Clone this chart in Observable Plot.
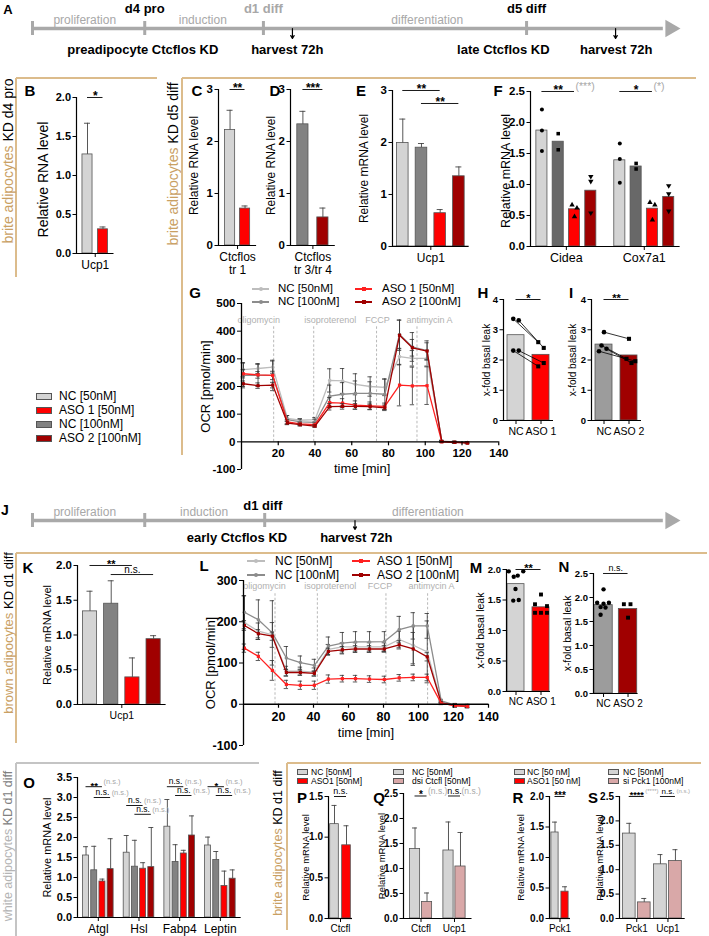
<!DOCTYPE html>
<html>
<head>
<meta charset="utf-8">
<script src="https://cdn.jsdelivr.net/npm/d3@7"></script>
<script src="https://cdn.jsdelivr.net/npm/@observablehq/plot@0.6"></script>
<style>
html, body { margin: 0; padding: 0; background: #fff; }
#root { position: relative; width: 709px; height: 936px; overflow: hidden; background: #fff;
  font-family: "Liberation Sans", Arial, Helvetica, sans-serif; color: #000; }
.abs { position: absolute; white-space: nowrap; line-height: 1; }
#root svg g[aria-label="y-axis tick label"] text { font-weight: bold; }
</style>
</head>
<body>
<div id="root"></div>
<script>
// ================= DATA =================
// Panel A timeline (schematic position 0-100 along the arrow)
const tlA_ticks = [0, 17.4, 35.8, 76.6];
const tlA_milestones = ["d4 pro", "d1 diff", "d5 diff"];
const tlA_milestonePos = [17.4, 35.8, 76.6];
const tlA_stages = ["proliferation", "induction", "differentiation"];
const tlA_stagePos = [8.1, 26.4, 61.2];
const tlA_events = ["preadipocyte Ctcflos KD", "harvest 72h", "late Ctcflos KD", "harvest 72h"];
const tlA_eventPos = [17.1, 39.5, 73.0, 90.5];
const tlA_harvestPos = [40.3, 90.4];
// Panel J timeline
const tlJ_ticks = [0, 17.4, 36.0];
const tlJ_milestones = ["d1 diff"];
const tlJ_milestonePos = [35.7];
const tlJ_stages = ["proliferation", "induction", "differentiation"];
const tlJ_stagePos = [8.1, 26.6, 61.3];
const tlJ_events = ["early Ctcflos KD", "harvest 72h"];
const tlJ_eventPos = [31.7, 50.2];
const tlJ_harvestPos = [50.0];

const legendNames = ["NC [50nM]", "ASO 1 [50nM]", "NC [100nM]", "ASO 2 [100nM]"];

// B
const B_genes = ["Ucp1"];
const B_NC50 = [1.27], B_NC50_sem = [0.40];
const B_ASO1 = [0.31], B_ASO1_sem = [0.03];
// C
const C_genes = ["Ctcflos\ntr 1"];
const C_NC50 = [2.22], C_NC50_sem = [0.38];
const C_ASO1 = [0.71], C_ASO1_sem = [0.05];
// D
const D_genes = ["Ctcflos\ntr 3/tr 4"];
const D_NC100 = [2.33], D_NC100_sem = [0.25];
const D_ASO2 = [0.54], D_ASO2_sem = [0.18];
// E
const E_genes = ["Ucp1"];
const E_NC50 = [1.99], E_NC50_sem = [0.46];
const E_NC100 = [1.90], E_NC100_sem = [0.08];
const E_ASO1 = [0.64], E_ASO1_sem = [0.07];
const E_ASO2 = [1.35], E_ASO2_sem = [0.18];
// F
const F_genes = ["Cidea", "Cox7a1"];
const F_NC50 = [1.87, 1.39];
const F_NC100 = [1.69, 1.29];
const F_ASO1 = [0.60, 0.61];
const F_ASO2 = [0.90, 0.80];
const F_NC50_pts = [[2.21, 1.87, 1.54], [1.66, 1.41, 1.03]];
const F_NC100_pts = [[1.82, 1.56], [1.34, 1.25]];
const F_ASO1_pts = [[0.67, 0.62, 0.48], [0.71, 0.67, 0.43]];
const F_ASO2_pts = [[1.13, 1.05, 0.54], [0.98, 0.85, 0.57]];
// G (OCR, brite d5)
const G_time = [1, 9, 17, 25, 32, 40, 48, 55, 62, 70, 78, 86, 93, 101, 109, 116, 123];
const G_NC50 = [261, 265, 270, 85, 78, 80, 222, 220, 208, 200, 197, 308, 302, 302, 3, 0, -3];
const G_NC50_sem = [25, 18, 22, 10, 6, 8, 42, 45, 38, 35, 30, 30, 28, 28, 3, 3, 3];
const G_NC100 = [240, 240, 240, 80, 72, 70, 165, 172, 175, 175, 172, 388, 343, 330, 2, -1, -3];
const G_NC100_sem = [45, 40, 55, 15, 10, 12, 40, 42, 45, 42, 55, 52, 52, 35, 3, 3, 3];
const G_ASO1 = [246, 242, 240, 72, 65, 62, 142, 140, 133, 130, 128, 205, 202, 203, 0, -2, -4];
const G_ASO1_sem = [15, 12, 15, 8, 6, 6, 18, 16, 15, 14, 12, 75, 68, 68, 3, 3, 3];
const G_ASO2 = [210, 203, 205, 68, 62, 57, 127, 128, 128, 127, 123, 385, 340, 328, 1, -2, -4];
const G_ASO2_sem = [10, 10, 10, 6, 5, 5, 12, 10, 10, 10, 10, 55, 30, 30, 3, 3, 3];
const G_injNames = ["oligomycin", "isoproterenol", "FCCP", "antimycin A"];
const G_injTime = [17.5, 39.3, 73.5, 95.5];
// H, I
const H_labels = ["NC", "ASO 1"];
const H_means = [2.82, 2.17];
const H_NC_pts = [3.36, 3.31, 2.31, 2.31];
const H_ASO1_pts = [2.59, 2.40, 1.79, 1.90];
const I_labels = ["NC", "ASO 2"];
const I_means = [2.51, 2.15];
const I_NC_pts = [2.92, 2.48, 2.37, 2.29];
const I_ASO2_pts = [2.70, 2.04, 1.90, 1.96];
// K
const K_genes = ["Ucp1"];
const K_NC50 = [1.34], K_NC50_sem = [0.29];
const K_NC100 = [1.45], K_NC100_sem = [0.33];
const K_ASO1 = [0.39], K_ASO1_sem = [0.28];
const K_ASO2 = [0.94], K_ASO2_sem = [0.05];
// L (OCR, brown d1)
const L_time = [0.5, 8.5, 16.5, 24.5, 32.5, 40.5, 48.5, 56.5, 64, 72, 80.5, 89, 97, 105, 113, 121, 128];
const L_NC50 = [198, 177, 168, 80, 80, 78, 133, 139, 139, 139, 139, 157, 143, 127, 5, -3, -5];
const L_NC50_sem = [65, 20, 30, 12, 10, 10, 12, 10, 10, 10, 10, 20, 45, 75, 4, 4, 4];
const L_NC100 = [223, 205, 173, 112, 101, 94, 141, 148, 151, 151, 152, 181, 190, 190, 8, -2, -4];
const L_NC100_sem = [40, 48, 78, 28, 16, 15, 22, 26, 25, 25, 24, 32, 32, 30, 4, 4, 4];
const L_ASO1 = [136, 116, 82, 48, 46, 46, 61, 62, 62, 61, 60, 64, 65, 65, 2, -3, -5];
const L_ASO1_sem = [10, 10, 24, 10, 10, 10, 10, 8, 8, 8, 8, 8, 8, 8, 3, 3, 3];
const L_ASO2 = [191, 171, 165, 77, 77, 75, 128, 132, 134, 134, 134, 144, 134, 115, 3, -3, -5];
const L_ASO2_sem = [12, 10, 10, 8, 6, 6, 8, 8, 8, 8, 8, 10, 40, 10, 3, 3, 3];
const L_injNames = ["oligomycin", "isoproterenol", "FCCP", "antimycin A"];
const L_injTime = [18.0, 42.2, 81.4, 105.2];
// M, N
const M_labels = ["NC", "ASO 1"];
const M_means = [1.76, 1.38];
const M_NC_pts = [1.97, 1.88, 1.90, 1.97, 1.68, 1.49, 1.50];
const M_ASO1_pts = [1.59, 1.43, 1.40, 1.29, 1.29, 1.29];
const N_labels = ["NC", "ASO 2"];
const N_means = [1.84, 1.76];
const N_NC_pts = [2.17, 1.89, 1.87, 1.89, 1.80, 1.79, 1.64];
const N_ASO2_pts = [1.86, 1.86, 1.58];
// O (white adipocytes)
const O_genes = ["Atgl", "Hsl", "Fabp4", "Leptin"];
const O_NC50 = [1.55, 1.62, 2.27, 1.80], O_NC50_sem = [0.22, 0.43, 0.68, 0.21];
const O_NC100 = [1.18, 1.27, 1.39, 1.44], O_NC100_sem = [0.60, 0.66, 0.43, 0.21];
const O_ASO1 = [0.90, 1.22, 1.60, 0.79], O_ASO1_sem = [0.06, 0.15, 0.08, 0.37];
const O_ASO2 = [1.21, 1.26, 2.05, 0.97], O_ASO2_sem = [0.76, 0.99, 0.49, 0.22];
// P, Q, R, S
const P_legend = ["NC [50nM]", "ASO1 [50nM]"];
const P_genes = ["Ctcfl"];
const P_NC50 = [1.16], P_NC50_sem = [0.23];
const P_ASO1 = [0.90], P_ASO1_sem = [0.24];
const Q_legend = ["NC [50nM]", "dsi Ctcfl [50nM]"];
const Q_genes = ["Ctcfl", "Ucp1"];
const Q_NC50 = [1.39, 1.36], Q_NC50_sem = [0.42, 0.57];
const Q_dsi = [0.33, 1.04], Q_dsi_sem = [0.18, 0.68];
const R_legend = ["NC [50 nM]", "ASO1 [50 nM]"];
const R_genes = ["Pck1"];
const R_NC50 = [1.41], R_NC50_sem = [0.17];
const R_ASO1 = [0.44], R_ASO1_sem = [0.08];
const S_legend = ["NC [50nM]", "si Pck1 [100nM]"];
const S_genes = ["Pck1", "Ucp1"];
const S_NC50 = [1.74, 1.11], S_NC50_sem = [0.21, 0.20];
const S_si = [0.33, 1.18], S_si_sem = [0.08, 0.23];

// ================= STYLE =================
const FONT = '"Liberation Sans", Arial, Helvetica, sans-serif';
const cNC50 = "#d4d4d4", cASO1 = "#ff0000", cNC100 = "#828282", cASO2 = "#a00000";
const cNCdark = "#686868", cNCmid = "#9c9c9c", cPINK = "#d9a8a8";
const TAN = "#c9a063", TANLINE = "#dcbc8c", GRAYLINE = "#c4c4c4", TLGRAY = "#a9a9a9";
const STYLE = {fontFamily: FONT, background: "transparent", overflow: "visible", color: "#000"};
const root = document.getElementById("root");

function place(svg, left, top) {
  svg.style.position = "absolute";
  svg.style.left = left + "px";
  svg.style.top = top + "px";
  svg.style.maxWidth = "none";
  root.appendChild(svg);
}
function div(css) {
  const e = document.createElement("div");
  e.style.cssText = "position:absolute;" + css;
  root.appendChild(e);
  return e;
}
function txt(s, x, y, css, anchor) {
  const e = document.createElement("div");
  e.className = "abs";
  e.textContent = s;
  const tx = anchor === "start" ? 0 : anchor === "end" ? -100 : -50;
  e.style.cssText = `left:${x}px;top:${y}px;transform:translate(${tx}%,-50%);` + (css || "");
  root.appendChild(e);
  return e;
}
function vlabel(parts, cx, cy, size) {
  const e = document.createElement("div");
  e.className = "abs";
  parts.forEach(([t, col]) => {
    const s = document.createElement("span");
    s.textContent = t; s.style.color = col; e.appendChild(s);
  });
  e.style.cssText = `left:${cx}px;top:${cy}px;font-size:${size}px;transform:translate(-50%,-50%) rotate(-90deg);`;
  root.appendChild(e);
}
function hline(x1, x2, y, col, w) { div(`left:${x1}px;top:${y - w / 2}px;width:${x2 - x1}px;height:${w}px;background:${col};`); }
function vline(x, y1, y2, col, w) { div(`left:${x - w / 2}px;top:${y1}px;width:${w}px;height:${y2 - y1}px;background:${col};`); }

// ================= TIMELINE =================
function timeline(c) {
  const svg = Plot.plot({
    width: 709, height: 60, marginLeft: 32, marginRight: 32, marginTop: 0, marginBottom: 0,
    x: {domain: [0, 100], axis: null}, y: {domain: [-30, 30], axis: null}, color: {type: "identity"},
    style: STYLE,
    marks: [
      Plot.ruleY([0], {x1: () => 0, x2: () => 97.8, stroke: TLGRAY, strokeWidth: 3.5}),
      Plot.dot([98.9], {x: d => d, y: () => 0, symbol: "triangle", r: 6.5, fill: TLGRAY, rotate: 90}),
      Plot.ruleX(c.ticks, {x: d => d, y1: () => -7, y2: () => 7, stroke: TLGRAY, strokeWidth: 3}),
      Plot.text(c.stages, {x: (d, i) => c.stagePos[i], y: () => 0, dy: c.stageDy, text: d => d, fill: "#a8a8a8", fontSize: 12}),
      Plot.text(c.milestones, {x: (d, i) => c.milestonePos[i], y: () => 0, dy: c.msDy, text: d => d, fill: (d, i) => c.msColor[i], fontWeight: "bold", fontSize: 13}),
      Plot.text(c.events, {x: (d, i) => c.eventPos[i], y: () => 0, dy: c.evDy, text: d => d, fontWeight: "bold", fontSize: 13}),
      Plot.arrow(c.harvest, {x1: d => d, x2: d => d, y1: () => 0, y2: () => -c.arrowLen, stroke: "#000", strokeWidth: 1.2, headLength: 5})
    ]
  });
  place(svg, 0, c.lineY - 30);
}

// ================= BAR PANEL =================
function barPanel(c) {
  const nG = c.groups.length, nS = c.series.length;
  const pad = c.pad ?? 0, gap = c.gap ?? 0, bw = c.bw ?? 0.7;
  const D = 2 * pad + nG * nS + (nG - 1) * gap;
  const cx = (g, s) => pad + g * (nS + gap) + s + 0.5;
  const centers = c.groups.map((_, g) => pad + g * (nS + gap) + nS / 2);
  const nameAt = new Map(centers.map((x, i) => [x, c.groups[i]]));
  const [y0, y1] = c.ydom;
  const cap = (c.capPx ?? 3) / c.step;
  const bars = [];
  c.series.forEach((se, s) => se.values.forEach((v, g) => bars.push({
    c: cx(g, s), v, e: se.sem ? se.sem[g] : null,
    fill: Array.isArray(se.color) ? se.color[g] : se.color
  })));
  const M = {l: 70, r: 70, t: 45, b: 45};
  const W = D * c.step, H = c.yBot - c.yTop;
  const marks = [];
  marks.push(Plot.rect(bars, {x1: d => d.c - bw / 2, x2: d => d.c + bw / 2, y1: () => y0, y2: "v", fill: "fill", stroke: c.barStroke || "#555", strokeWidth: 0.8}));
  const eb = bars.filter(d => d.e != null);
  marks.push(Plot.ruleX(eb, {x: "c", y1: "v", y2: d => d.v + d.e, stroke: "#444", strokeWidth: 0.9}));
  marks.push(Plot.ruleY(eb, {y: d => d.v + d.e, x1: d => d.c - cap, x2: d => d.c + cap, stroke: "#444", strokeWidth: 0.9}));
  // points
  const pts = (c.points || []).map(p => p.vals.map((v, i) => ({x: cx(p.g, p.s) + p.jit[i % p.jit.length], y: v})));
  (c.pairs || []).forEach(([a, b]) => {
    const A = pts[a], B = pts[b];
    marks.push(Plot.link(A.map((d, i) => ({x1: d.x, y1: d.y, x2: B[i].x, y2: B[i].y})), {x1: "x1", y1: "y1", x2: "x2", y2: "y2", stroke: "#000", strokeWidth: 0.8}));
  });
  (c.points || []).forEach((p, k) => {
    marks.push(Plot.dot(pts[k], {x: "x", y: "y", r: p.r || 2, fill: "#000", stroke: "none", symbol: p.symbol || "circle", rotate: p.rotate || 0}));
  });
  // significance
  if (c.sigs) {
    const S = c.sigs.map(s => ({x1: cx(...s.a), x2: cx(...s.b), y: s.y, text: s.text, extra: s.extra, star: s.text.includes("*")}));
    const f = c.sigFont || 11;
    marks.push(Plot.ruleY(S, {y: "y", x1: "x1", x2: "x2", stroke: "#000", strokeWidth: 0.9}));
    marks.push(Plot.text(S.filter(d => d.star), {x: d => (d.x1 + d.x2) / 2, y: "y", text: "text", fontSize: f + 1, fontWeight: "bold", dy: -1}));
    marks.push(Plot.text(S.filter(d => !d.star), {x: d => (d.x1 + d.x2) / 2, y: "y", text: "text", fontSize: f, dy: -5}));
    marks.push(Plot.text(S.filter(d => d.extra), {x: "x2", y: "y", text: "extra", fontSize: c.extraFont || (f - 0.5), fill: "#a8a8a8", textAnchor: "start", dx: 1, dy: -5}));
  }
  // axes
  marks.push(Plot.ruleX([0], {x: () => 0, y1: () => y0, y2: () => y1, stroke: "#000", strokeWidth: 1.2}));
  marks.push(Plot.ruleY([y0], {y: () => y0, x1: () => 0, x2: () => D, stroke: "#000", strokeWidth: 1.2}));
  marks.push(Plot.axisY({ticks: c.yticks, tickFormat: c.yfmt, tickSize: 3.5, tickPadding: 2, fontSize: c.tickFont, fontWeight: "bold", label: null}));
  marks.push(Plot.axisX({ticks: centers, tickFormat: d => nameAt.get(d), tickSize: 4, tickPadding: 2, fontSize: c.catFont, lineHeight: 1.12, label: null}));
  marks.push(Plot.text([c.ylabel], {frameAnchor: "left", textAnchor: "middle", rotate: -90, dx: -c.ylabOff, dy: c.ylabDy || 0, fontSize: c.ylabSize, text: d => d}));
  const svg = Plot.plot({
    width: M.l + W + M.r, height: M.t + H + M.b,
    marginLeft: M.l, marginRight: M.r, marginTop: M.t, marginBottom: M.b,
    x: {domain: [0, D], axis: null}, y: {domain: [y0, y1], axis: null}, color: {type: "identity"},
    style: STYLE, marks
  });
  place(svg, c.x0 - M.l, c.yTop - M.t);
}

// ================= LINE PANEL =================
function linePanel(c) {
  const M = {l: 70, r: 40, t: 45, b: 45};
  const W = c.x140 - c.x0, H = c.yBot - c.yTop;
  const [y0, y1] = c.ydom;
  const ppuY = H / (y1 - y0), ppuX = W / 140;
  const tickLen = 4 / ppuY, cap = 2.2 / ppuX;
  const marks = [];
  const inj = c.injNames.map((name, i) => ({name, t: c.injTime[i]}));
  marks.push(Plot.ruleX(inj, {x: "t", y1: () => 0, y2: () => c.injTop, stroke: "#b0b0b0", strokeWidth: 0.9, strokeDasharray: "2.5,2"}));
  inj.forEach((d, i) => marks.push(Plot.text([d], {x: "t", y: () => c.injLabelY, text: "name", fill: "#b0b0b0", fontSize: 9, dx: c.injDx[i]})));
  c.series.forEach(se => {
    const data = c.t.map((t, i) => ({t, v: se.values[i], e: se.sem[i]}));
    marks.push(Plot.ruleX(data, {x: "t", y1: d => d.v - d.e, y2: d => d.v + d.e, stroke: "#333", strokeWidth: 0.8}));
    marks.push(Plot.ruleY(data, {y: d => d.v + d.e, x1: d => d.t - cap, x2: d => d.t + cap, stroke: "#333", strokeWidth: 0.8}));
    marks.push(Plot.ruleY(data, {y: d => d.v - d.e, x1: d => d.t - cap, x2: d => d.t + cap, stroke: "#333", strokeWidth: 0.8}));
    marks.push(Plot.line(data, {x: "t", y: "v", stroke: se.color, strokeWidth: 1.3}));
    marks.push(Plot.dot(data, {x: "t", y: "v", fill: se.color, stroke: "none", r: 1.8, symbol: se.symbol}));
  });
  marks.push(Plot.ruleX([0], {x: () => 0, y1: () => y0, y2: () => y1, stroke: "#000", strokeWidth: 1.3}));
  marks.push(Plot.ruleY([0], {y: () => 0, x1: () => 0, x2: () => 140, stroke: "#000", strokeWidth: 1.3}));
  marks.push(Plot.ruleX(c.xticks, {x: d => d, y1: () => 0, y2: () => -tickLen, stroke: "#000", strokeWidth: 1.2}));
  marks.push(Plot.text(c.xticks, {x: d => d, y: () => 0, dy: c.xtickDy, text: d => String(d), fontWeight: "bold", fontSize: c.tickFont}));
  marks.push(Plot.axisY({ticks: c.yticks, tickFormat: d => String(d), tickSize: 4, tickPadding: 2, fontSize: c.tickFont, fontWeight: "bold", label: null}));
  marks.push(Plot.text([c.ylabel], {frameAnchor: "left", textAnchor: "middle", rotate: -90, dx: -c.ylabOff, fontSize: c.ylabSize, text: d => d}));
  marks.push(Plot.text([c.xlabel], {frameAnchor: "bottom", textAnchor: "middle", dx: c.xlabDx, dy: c.xlabDy, fontSize: c.xlabSize, text: d => d}));
  const svg = Plot.plot({
    width: M.l + W + M.r, height: M.t + H + M.b,
    marginLeft: M.l, marginRight: M.r, marginTop: M.t, marginBottom: M.b,
    x: {domain: [0, 140], axis: null}, y: {domain: [y0, y1], axis: null}, color: {type: "identity"},
    style: STYLE, marks
  });
  place(svg, c.x0 - M.l, c.yTop - M.t);
}

// ================= LEGENDS =================
function swatchLegend(names, colors, sx, y0, dy, sw, sh, tx, font) {
  names.forEach((n, i) => {
    const y = y0 + i * dy;
    div(`left:${sx}px;top:${y - sh / 2}px;width:${sw}px;height:${sh}px;background:${colors[i]};border:0.8px solid #555;box-sizing:border-box;`);
    txt(n, tx, y, `font-size:${font}px;`, "start");
  });
}
function lineLegendItem(name, color, square, sx, sw, y, tx, font) {
  div(`left:${sx}px;top:${y - 0.7}px;width:${sw}px;height:1.4px;background:${color};`);
  div(`left:${sx + sw / 2 - 2}px;top:${y - 2}px;width:4px;height:4px;background:${color};border-radius:${square ? 0 : 2}px;`);
  txt(name, tx, y, `font-size:${font}px;`, "start");
}

// ================= BUILD =================
// boxes
hline(16, 157, 78, TANLINE, 1.5); vline(16, 78, 277, TANLINE, 1.5);
hline(182, 696, 78, TANLINE, 1.5); vline(182, 78, 455, TANLINE, 1.5);
hline(16, 707, 553, TANLINE, 1.5); vline(16, 553, 743, TANLINE, 1.5);
hline(16, 259, 763, GRAYLINE, 1.5); vline(16, 763, 936, GRAYLINE, 1.5);
hline(287, 701, 763, TANLINE, 1.5); vline(287, 763, 930, TANLINE, 1.5);
// side labels
vlabel([["brite adipocytes", TAN], [" KD d4 pro", "#000"]], 8, 161, 14);
vlabel([["brite adipocytes", TAN], [" KD d5 diff", "#000"]], 173, 164, 14);
vlabel([["brown adipocytes", TAN], [" KD d1 diff", "#000"]], 8, 633, 13);
vlabel([["white adipocytes", "#b4b4b4"], [" KD d1 diff", "#808080"]], 8, 846, 12.5);
vlabel([["brite adipocytes", TAN], [" KD d1 diff", "#000"]], 278, 843, 12.5);

// timelines
timeline({ticks: tlA_ticks, stages: tlA_stages, stagePos: tlA_stagePos, milestones: tlA_milestones, milestonePos: tlA_milestonePos,
  msColor: ["#000", "#a8a8a8", "#000"], events: tlA_events, eventPos: tlA_eventPos, harvest: tlA_harvestPos,
  lineY: 28, stageDy: -8, msDy: -20, evDy: 21, arrowLen: 10});
timeline({ticks: tlJ_ticks, stages: tlJ_stages, stagePos: tlJ_stagePos, milestones: tlJ_milestones, milestonePos: tlJ_milestonePos,
  msColor: ["#000"], events: tlJ_events, eventPos: tlJ_eventPos, harvest: tlJ_harvestPos,
  lineY: 520, stageDy: -8.5, msDy: -15, evDy: 17, arrowLen: 9});

const f1 = d => d3.format(".1f")(d);
const fi = d => String(d);

// B
barPanel({x0: 76, yTop: 97, yBot: 253, step: 15.5, pad: 0.21, bw: 0.65, groups: B_genes,
  series: [{values: B_NC50, sem: B_NC50_sem, color: cNC50}, {values: B_ASO1, sem: B_ASO1_sem, color: cASO1}],
  ydom: [0, 2], yticks: [0, 0.5, 1, 1.5, 2], yfmt: f1, tickFont: 11, catFont: 12,
  ylabel: "Relative RNA level", ylabSize: 14, ylabOff: 33, ylabDy: 4,
  sigs: [{a: [0, 0], b: [0, 1], y: 2.0, text: "*"}], sigFont: 11});
// C
barPanel({x0: 218, yTop: 89, yBot: 245, step: 15, pad: 0.27, bw: 0.68, groups: C_genes,
  series: [{values: C_NC50, sem: C_NC50_sem, color: cNC50}, {values: C_ASO1, sem: C_ASO1_sem, color: cASO1}],
  ydom: [0, 3], yticks: [0, 1, 2, 3], yfmt: fi, tickFont: 11.5, catFont: 12,
  ylabel: "Relative RNA level", ylabSize: 12, ylabOff: 24, ylabDy: -2,
  sigs: [{a: [0, 0], b: [0, 1], y: 3, text: "**"}], sigFont: 11});
// D
barPanel({x0: 290, yTop: 89, yBot: 245, step: 20, pad: 0.12, bw: 0.56, groups: D_genes,
  series: [{values: D_NC100, sem: D_NC100_sem, color: cNC100}, {values: D_ASO2, sem: D_ASO2_sem, color: cASO2}],
  ydom: [0, 3], yticks: [0, 1, 2, 3], yfmt: fi, tickFont: 11.5, catFont: 12,
  ylabel: "Relative RNA level", ylabSize: 12, ylabOff: 19, ylabDy: -2,
  sigs: [{a: [0, 0], b: [0, 1], y: 3, text: "***"}], sigFont: 11});
// E
barPanel({x0: 392, yTop: 90, yBot: 246, step: 18.7, pad: 0.05, bw: 0.62, groups: E_genes,
  series: [{values: E_NC50, sem: E_NC50_sem, color: cNC50}, {values: E_NC100, sem: E_NC100_sem, color: cNC100},
           {values: E_ASO1, sem: E_ASO1_sem, color: cASO1}, {values: E_ASO2, sem: E_ASO2_sem, color: cASO2}],
  ydom: [0, 3], yticks: [0, 1, 2, 3], yfmt: fi, tickFont: 11.5, catFont: 12,
  ylabel: "Relative mRNA level", ylabSize: 12, ylabOff: 28,
  sigs: [{a: [0, 0], b: [0, 2], y: 3, text: "**"}, {a: [0, 1], b: [0, 3], y: 2.75, text: "**"}], sigFont: 11});
// F
barPanel({x0: 530, yTop: 91, yBot: 246, step: 16.3, pad: 0.2, gap: 0.78, bw: 0.68, groups: F_genes,
  series: [{values: F_NC50, color: cNC50}, {values: F_NC100, color: cNCdark},
           {values: F_ASO1, color: cASO1}, {values: F_ASO2, color: cASO2}],
  ydom: [0, 2.5], yticks: [0, 0.5, 1, 1.5, 2, 2.5], yfmt: f1, tickFont: 11.5, catFont: 12.5,
  ylabel: "Relative mRNA level", ylabSize: 12.5, ylabOff: 25, ylabDy: 2,
  points: [
    {g: 0, s: 0, vals: F_NC50_pts[0], jit: [0], symbol: "circle", r: 2},
    {g: 1, s: 0, vals: F_NC50_pts[1], jit: [0], symbol: "circle", r: 2},
    {g: 0, s: 1, vals: F_NC100_pts[0], jit: [0], symbol: "square", r: 2},
    {g: 1, s: 1, vals: F_NC100_pts[1], jit: [0], symbol: "square", r: 2},
    {g: 0, s: 2, vals: F_ASO1_pts[0], jit: [-0.15, 0.15, 0], symbol: "triangle", r: 2},
    {g: 1, s: 2, vals: F_ASO1_pts[1], jit: [-0.15, 0.15, 0], symbol: "triangle", r: 2},
    {g: 0, s: 3, vals: F_ASO2_pts[0], jit: [0], symbol: "triangle", r: 2, rotate: 180},
    {g: 1, s: 3, vals: F_ASO2_pts[1], jit: [0], symbol: "triangle", r: 2, rotate: 180}
  ],
  sigs: [{a: [0, 0], b: [0, 2], y: 2.5, text: "**", extra: "(***)"}, {a: [1, 0], b: [1, 2], y: 2.5, text: "*", extra: "(*)"}], sigFont: 11});
swatchLegend(legendNames, [cNC50, cASO1, cNC100, cASO2], 36, 396, 14, 16, 7, 59, 12);

// G
linePanel({x0: 241.25, x140: 498.5, yTop: 303, yBot: 469, ydom: [-100, 500], yticks: [-100, 0, 100, 200, 300, 400, 500],
  xticks: [20, 40, 60, 80, 100, 120, 140], t: G_time,
  series: [{values: G_NC50, sem: G_NC50_sem, color: "#bdbdbd", symbol: "circle"},
           {values: G_NC100, sem: G_NC100_sem, color: "#8c8c8c", symbol: "circle"},
           {values: G_ASO1, sem: G_ASO1_sem, color: "#ff2020", symbol: "square"},
           {values: G_ASO2, sem: G_ASO2_sem, color: "#a00000", symbol: "square"}],
  injNames: G_injNames, injTime: G_injTime, injTop: 420, injLabelY: 441, injDx: [-15, 16.5, 1, 12.5],
  tickFont: 11.5, ylabel: "OCR [pmol/min]", ylabSize: 13, ylabOff: 36,
  xlabel: "time [min]", xlabSize: 13, xlabDx: -8, xlabDy: 3, xtickDy: 11});
lineLegendItem(legendNames[0], "#bdbdbd", false, 252, 17, 289, 278, 11.5);
lineLegendItem(legendNames[2], "#8c8c8c", false, 252, 17, 302, 278, 11.5);
lineLegendItem(legendNames[1], "#ff2020", true, 355, 17, 289, 382, 11.5);
lineLegendItem(legendNames[3], "#a00000", true, 355, 17, 302, 382, 11.5);

// H
barPanel({x0: 503, yTop: 299, yBot: 420, step: 25, pad: 0, bw: 0.68, groups: H_labels,
  series: [{values: H_means, color: [cNC50, cASO1]}],
  ydom: [0, 4], yticks: [0, 1, 2, 3, 4], yfmt: fi, tickFont: 9.5, catFont: 10.5,
  ylabel: "x-fold basal leak", ylabSize: 10, ylabOff: 17,
  points: [{g: 0, s: 0, vals: H_NC_pts, jit: [-0.11, 0.11], symbol: "circle", r: 2.3},
           {g: 1, s: 0, vals: H_ASO1_pts, jit: [-0.11, 0.11], symbol: "square", r: 2.3}],
  pairs: [[0, 1]],
  sigs: [{a: [0, 0], b: [1, 0], y: 4, text: "*"}], sigFont: 10});
// I
barPanel({x0: 591, yTop: 299, yBot: 420, step: 25, pad: 0, bw: 0.68, groups: I_labels,
  series: [{values: I_means, color: [cNCmid, cASO2]}],
  ydom: [0, 4], yticks: [0, 1, 2, 3, 4], yfmt: fi, tickFont: 9.5, catFont: 10.5,
  ylabel: "x-fold basal leak", ylabSize: 10, ylabOff: 19,
  points: [{g: 0, s: 0, vals: I_NC_pts, jit: [0, -0.1, 0.1, -0.2], symbol: "circle", r: 2.3},
           {g: 1, s: 0, vals: I_ASO2_pts, jit: [0, -0.1, 0.1, 0.25], symbol: "square", r: 2.3}],
  pairs: [[0, 1]],
  sigs: [{a: [0, 0], b: [1, 0], y: 4, text: "**"}], sigFont: 10});

// K
barPanel({x0: 77, yTop: 565, yBot: 704, step: 21.2, pad: 0.09, bw: 0.67, groups: K_genes,
  series: [{values: K_NC50, sem: K_NC50_sem, color: cNC50}, {values: K_NC100, sem: K_NC100_sem, color: cNC100},
           {values: K_ASO1, sem: K_ASO1_sem, color: cASO1}, {values: K_ASO2, sem: K_ASO2_sem, color: cASO2}],
  ydom: [0, 2], yticks: [0, 0.5, 1, 1.5, 2], yfmt: f1, tickFont: 11.5, catFont: 10.5,
  ylabel: "Relative mRNA level", ylabSize: 11, ylabOff: 30,
  sigs: [{a: [0, 0], b: [0, 2], y: 2.0, text: "**"}, {a: [0, 1], b: [0, 3], y: 1.87, text: "n.s."}], sigFont: 10});

// L
linePanel({x0: 243, x140: 488, yTop: 580, yBot: 745, ydom: [-100, 300], yticks: [-100, 0, 100, 200, 300],
  xticks: [20, 40, 60, 80, 100, 120, 140], t: L_time,
  series: [{values: L_NC50, sem: L_NC50_sem, color: "#bdbdbd", symbol: "circle"},
           {values: L_NC100, sem: L_NC100_sem, color: "#8c8c8c", symbol: "circle"},
           {values: L_ASO2, sem: L_ASO2_sem, color: "#a00000", symbol: "square"},
           {values: L_ASO1, sem: L_ASO1_sem, color: "#ff2020", symbol: "square"}],
  injNames: L_injNames, injTime: L_injTime, injTop: 271, injLabelY: 286, injDx: [-10.5, 13, -6, 4],
  tickFont: 12.5, ylabel: "OCR [pmol/min]", ylabSize: 13, ylabOff: 33,
  xlabel: "time [min]", xlabSize: 13, xlabDx: 0, xlabDy: -9, xtickDy: 13});
lineLegendItem(legendNames[0], "#bdbdbd", false, 247, 18, 561, 275, 12);
lineLegendItem(legendNames[2], "#8c8c8c", false, 247, 18, 575, 275, 12);
lineLegendItem(legendNames[1], "#ff2020", true, 352, 18, 561, 377, 12);
lineLegendItem(legendNames[3], "#a00000", true, 352, 18, 575, 377, 12);

// M
barPanel({x0: 506, yTop: 569, yBot: 691, step: 25, pad: -0.12, bw: 0.68, groups: M_labels,
  series: [{values: M_means, color: [cNC50, cASO1]}],
  ydom: [0, 2], yticks: [0, 0.5, 1, 1.5, 2], yfmt: f1, tickFont: 9.5, catFont: 10,
  ylabel: "x-fold basal leak", ylabSize: 10.5, ylabOff: 26,
  points: [{g: 0, s: 0, vals: M_NC_pts, jit: [-0.29, -0.09, 0.07, 0.29, -0.02, -0.11, 0.11], symbol: "circle", r: 2.2},
           {g: 1, s: 0, vals: M_ASO1_pts, jit: [0, -0.24, 0.24, -0.24, 0, 0.24], symbol: "square", r: 2.2}],
  sigs: [{a: [0, 0], b: [1, 0], y: 2.0, text: "**"}], sigFont: 10});
// N
barPanel({x0: 593, yTop: 573, yBot: 693, step: 24.5, pad: -0.09, bw: 0.75, groups: N_labels,
  series: [{values: N_means, color: [cNCmid, cASO2]}],
  ydom: [0, 2.5], yticks: [0, 0.5, 1, 1.5, 2, 2.5], yfmt: f1, tickFont: 9.5, catFont: 10,
  ylabel: "x-fold basal leak", ylabSize: 10.5, ylabOff: 26,
  points: [{g: 0, s: 0, vals: N_NC_pts, jit: [0, -0.26, 0, 0.22, -0.12, 0.08, -0.12], symbol: "circle", r: 2.2},
           {g: 1, s: 0, vals: N_ASO2_pts, jit: [-0.17, 0.1, 0], symbol: "square", r: 2.2}],
  sigs: [{a: [0, 0], b: [1, 0], y: 2.5, text: "n.s."}], sigFont: 9});

// O
barPanel({x0: 77, yTop: 777, yBot: 917, step: 8.2, pad: 0.54, gap: 0.96, bw: 0.73, capPx: 2.5, groups: O_genes,
  series: [{values: O_NC50, sem: O_NC50_sem, color: cNC50}, {values: O_NC100, sem: O_NC100_sem, color: cNC100},
           {values: O_ASO1, sem: O_ASO1_sem, color: cASO1}, {values: O_ASO2, sem: O_ASO2_sem, color: cASO2}],
  ydom: [0, 3.5], yticks: [0, 0.5, 1, 1.5, 2, 2.5, 3, 3.5], yfmt: f1, tickFont: 11, catFont: 12,
  ylabel: "Relative mRNA level", ylabSize: 11, ylabOff: 30,
  sigs: [
    {a: [0, 0], b: [0, 2], y: 3.27, text: "**", extra: "(n.s.)"},
    {a: [0, 1], b: [0, 3], y: 3.0, text: "n.s.", extra: "(n.s.)"},
    {a: [1, 0], b: [1, 2], y: 2.8, text: "n.s.", extra: "(n.s.)"},
    {a: [1, 1], b: [1, 3], y: 2.58, text: "n.s.", extra: "(n.s.)"},
    {a: [2, 0], b: [2, 2], y: 3.27, text: "n.s.", extra: "(n.s.)"},
    {a: [2, 1], b: [2, 3], y: 3.05, text: "n.s.", extra: "(n.s.)"},
    {a: [3, 0], b: [3, 2], y: 3.27, text: "*", extra: "(n.s.)"},
    {a: [3, 1], b: [3, 3], y: 3.05, text: "n.s.", extra: "(n.s.)"}
  ], sigFont: 8.5, extraFont: 7.5});

// P
barPanel({x0: 328, yTop: 796, yBot: 918, step: 12, pad: 0, bw: 0.72, capPx: 2.5, groups: P_genes,
  series: [{values: P_NC50, sem: P_NC50_sem, color: cNC50}, {values: P_ASO1, sem: P_ASO1_sem, color: cASO1}],
  ydom: [0, 1.5], yticks: [0, 0.5, 1, 1.5], yfmt: f1, tickFont: 10, catFont: 10,
  ylabel: "Relative mRNA level", ylabSize: 9.5, ylabOff: 23,
  sigs: [{a: [0, 0], b: [0, 1], y: 1.5, text: "n.s."}], sigFont: 9});
// Q
barPanel({x0: 403, yTop: 793, yBot: 918, step: 12, pad: 0.46, gap: 0.79, bw: 0.85, capPx: 2.5, groups: Q_genes,
  series: [{values: Q_NC50, sem: Q_NC50_sem, color: cNC50}, {values: Q_dsi, sem: Q_dsi_sem, color: cPINK}],
  ydom: [0, 2.5], yticks: [0, 0.5, 1, 1.5, 2, 2.5], yfmt: f1, tickFont: 10, catFont: 10,
  ylabel: "Relative mRNA level", ylabSize: 9.5, ylabOff: 22,
  sigs: [{a: [0, 0], b: [0, 1], y: 2.45, text: "*", extra: "(n.s.)"}, {a: [1, 0], b: [1, 1], y: 2.45, text: "n.s.", extra: "(n.s.)"}], sigFont: 9, extraFont: 8.5});
// R
barPanel({x0: 549, yTop: 796, yBot: 918, step: 10, pad: 0.05, bw: 0.72, capPx: 2.5, groups: R_genes,
  series: [{values: R_NC50, sem: R_NC50_sem, color: cNC50}, {values: R_ASO1, sem: R_ASO1_sem, color: cASO1}],
  ydom: [0, 2], yticks: [0, 0.5, 1, 1.5, 2], yfmt: f1, tickFont: 10, catFont: 10,
  ylabel: "Relative mRNA level", ylabSize: 9.5, ylabOff: 29,
  sigs: [{a: [0, 0], b: [0, 1], y: 2, text: "***"}], sigFont: 9});
// S
barPanel({x0: 619, yTop: 796, yBot: 918, step: 15, pad: 0.15, gap: 0.08, bw: 0.85, capPx: 2.5, groups: S_genes,
  series: [{values: S_NC50, sem: S_NC50_sem, color: cNC50}, {values: S_si, sem: S_si_sem, color: cPINK}],
  ydom: [0, 2.5], yticks: [0, 0.5, 1, 1.5, 2, 2.5], yfmt: f1, tickFont: 10, catFont: 10,
  ylabel: "Relative mRNA level", ylabSize: 9.5, ylabOff: 20,
  sigs: [{a: [0, 0], b: [0, 1], y: 2.5, text: "****", extra: "(****)"}, {a: [1, 0], b: [1, 1], y: 2.5, text: "n.s.", extra: "(n.s.)"}], sigFont: 8, extraFont: 6});
swatchLegend(P_legend, [cNC50, cASO1], 297, 772, 9, 11, 6, 311, 8.5);
swatchLegend(Q_legend, [cNC50, cPINK], 393, 772, 9, 11, 6, 412, 8.5);
swatchLegend(R_legend, [cNC50, cASO1], 514, 772, 9, 11, 6, 527, 8.5);
swatchLegend(S_legend, [cNC50, cPINK], 608, 772, 9, 11, 6, 623, 8.5);

// panel letters
const letters = [["A", 8, 9, 13], ["B", 30, 90, 15], ["C", 197, 90, 15], ["D", 275, 90, 15], ["E", 361, 90, 15], ["F", 498, 90, 15],
  ["G", 195, 292, 15], ["H", 483, 292, 15], ["I", 571, 292, 15], ["J", 5, 510, 14], ["K", 28, 567, 15], ["L", 204, 565, 15],
  ["M", 476, 567, 15], ["N", 564, 566, 15], ["O", 29, 782, 15], ["P", 302, 797, 15], ["Q", 379, 797, 15], ["R", 518, 797, 15], ["S", 593, 797, 15]];
letters.forEach(([l, x, y, s]) => txt(l, x, y, `font-weight:bold;font-size:${s}px;`));
</script>
</body>
</html>
